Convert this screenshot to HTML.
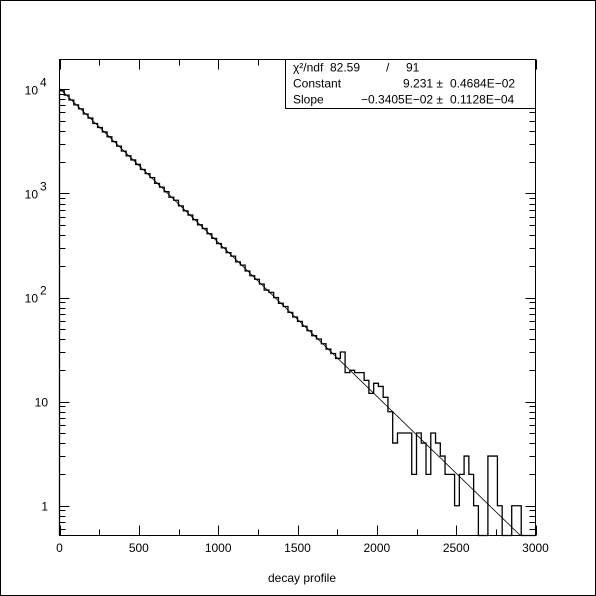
<!DOCTYPE html>
<html><head><meta charset="utf-8"><style>
body{margin:0;background:#fff}
svg{display:block}
text{font-family:"Liberation Sans",sans-serif;font-size:12px;fill:#000;white-space:pre}
</style></head><body>
<svg id="chart" width="596" height="596" viewBox="0 0 596 596">
<rect x="0.5" y="0.5" width="595" height="595" fill="#fff" stroke="#000" stroke-width="1"/>
<g id="plot"></g>
</svg>
<script>
const binValues=[9700,8800,7900,7100,6500,5800,5300,4700,4300,3900,3500,3150,2850,2550,2300,2100,1900,1700,1550,1420,1250,1150,1040,920,860,760,680,620,560,500,460,410,370,330,300,270,250,220,205,180,162,150,135,118,112,100,88,82,72,65,59,53,48,43,40,36,32,29,26,30,19,20,19,19,16,12,15,14,11,8,4,5,5,5,2,5,4,2,5,4,3,2,2,1,2,3,2,1,0,0,3,3,1,0,0,1,1,0,0,0];
const binWidth=30;
const fitConstant=9.231, fitSlope=-0.003405;
const xTicks=[0,500,1000,1500,2000,2500,3000];
const yDecades=[0,1,2,3,4];
const yLabels=["1","10","10","10","10"];
const yExps=["","","2","3","4"];
const statsLabels=["χ²/ndf","Constant","Slope"];
const statsMain=["82.59","9.231 ±","−0.3405E−02 ±"];
const statsErr=["/     91","0.4684E−02","0.1128E−04"];

const L=59.5,R=535.5,T=59.5,B=535.5;
const xMin=0,xMax=3000,lMin=-0.286,lMax=4.287;
const X=v=>L+(v-xMin)/(xMax-xMin)*(R-L);
const Y=v=>{let l=v>0?Math.log10(v):lMin-1;l=Math.max(lMin,Math.min(lMax,l));return B-(l-lMin)/(lMax-lMin)*(B-T);};
const g=document.getElementById('plot');
const NS='http://www.w3.org/2000/svg';
function mk(tag,attrs,parent){const e=document.createElementNS(NS,tag);for(const k in attrs)e.setAttribute(k,attrs[k]);(parent||g).appendChild(e);return e;}

const frame=mk('rect',{x:L,y:T,width:R-L,height:B-T,fill:'none',stroke:'#000','stroke-width':1});



for(let v=0;v<=3000;v+=250){
  const major=v%500===0;const len=major?10:6;const x=Math.round(X(v))+0.5;
  const t1=mk('line',{x1:x,x2:x,y1:B,y2:B-len,stroke:'#000'});
  
  
  const t2=mk('line',{x1:x,x2:x,y1:T,y2:T+len,stroke:'#000'});
  
  
}
xTicks.forEach(v=>{
  const t=mk('text',{x:X(v),y:552,'text-anchor':'middle'});t.textContent=String(v);
  
  
});
for(let d=-1;d<=4;d++){for(let m=1;m<=9;m++){
  const v=m*Math.pow(10,d);const l=Math.log10(v);if(l<lMin||l>lMax)continue;
  const y=Math.round(Y(v))+0.5;const len=m===1?10:6;
  const a=mk('line',{x1:L,x2:L+len,y1:y,y2:y,stroke:'#000'});
  
  
  const b=mk('line',{x1:R,x2:R-len,y1:y,y2:y,stroke:'#000'});
  
  
}}
yDecades.forEach((d,i)=>{
  const y=Y(Math.pow(10,d));
  const t=mk('text',{x:yExps[i]?38:48,y:y+5,'text-anchor':'end'});t.textContent=yLabels[i];
  
  
  if(yExps[i]){const s=mk('text',{x:40,y:y-3,'font-size':'10'});s.textContent=yExps[i];
  
  }
});
let d='';
binValues.forEach((v,i)=>{
  const x0=X(i*binWidth),x1=X((i+1)*binWidth),y=Y(v);
  d+=(i===0?'M'+x0+','+B+' L'+x0+','+y:' L'+x0+','+y)+' L'+x1+','+y;
});
d+=' L'+X(binValues.length*binWidth)+','+B;
const hist=mk('path',{d:d,fill:'none',stroke:'#000','stroke-width':1.3});


let fd='';
for(let x=0;x<=2930;x+=10){const v=Math.exp(fitConstant+fitSlope*x);fd+=(x===0?'M':' L')+X(x)+','+Y(v);}
const fit=mk('path',{d:fd,fill:'none',stroke:'#000','stroke-width':0.8});


const box=mk('rect',{x:285.5,y:T,width:R-285.5,height:49,fill:'#fff',stroke:'#000'});


statsLabels.forEach((lab,i)=>{
  const y=T+12+i*16;
  const a=mk('text',{x:293,y:y});a.textContent=lab;
  
  
  const b=i===0?mk('text',{x:330,y:y}):mk('text',{x:443,y:y,'text-anchor':'end'});b.textContent=statsMain[i];
  
  
  const c=mk('text',{x:i===0?386:450,y:y});c.textContent=statsErr[i];
  
  
});
const xt=mk('text',{x:302,y:582,'text-anchor':'middle'});xt.textContent='decay profile';


</script>
</body></html>
